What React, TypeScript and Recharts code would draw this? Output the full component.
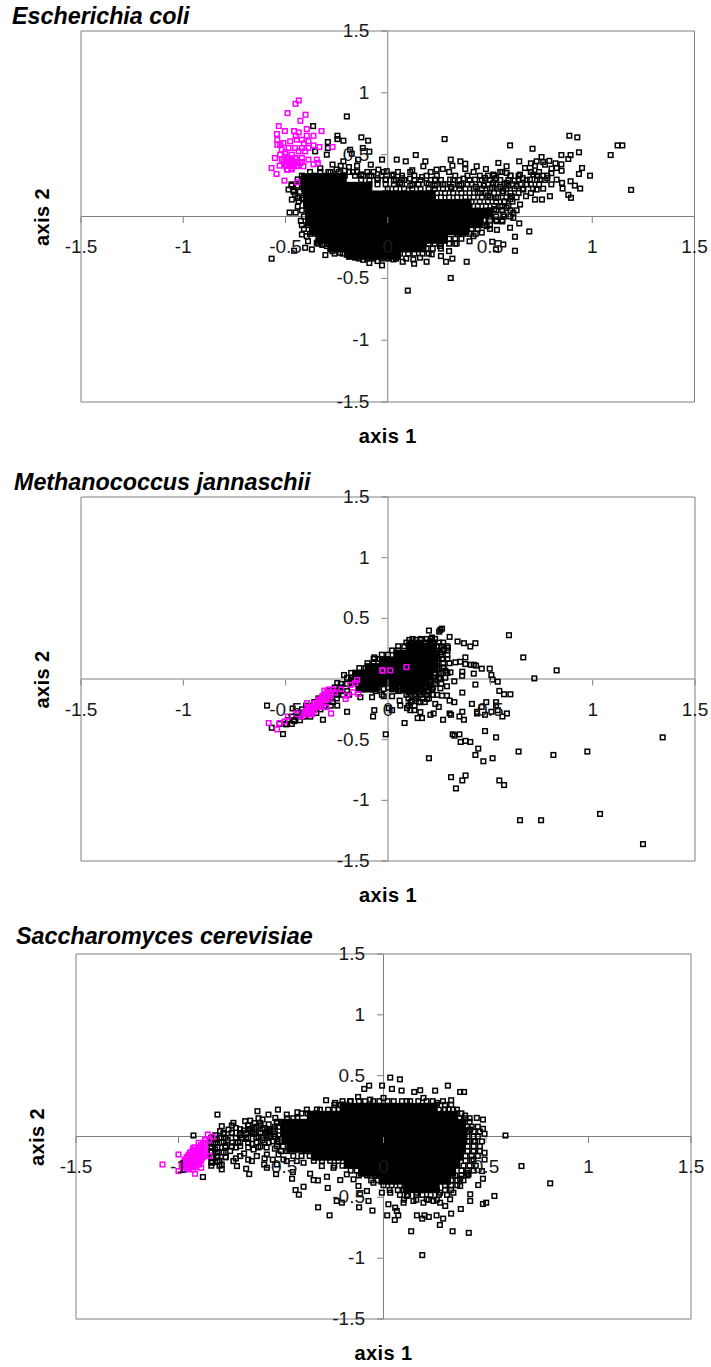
import { ScatterChart, Scatter, XAxis, YAxis, ReferenceLine, ReferenceArea, Label } from 'recharts';

type Pt = [number, number];
type Row = [number, number[]];

const xTicks = [-1.5, -1, -0.5, 0, 0.5, 1, 1.5];
const yTicks = [1.5, 1, 0.5, -0.5, -1, -1.5];

// hollow marks that can be told apart in the picture
const ecoliBlack: Pt[] = [
  [1.19,.215],[1.124,.575],[1.147,.575],[1.09,.497],[.989,.33],[.941,.226],[.915,.25],[.894,.285],[.935,.344],[.95,.392],[.935,.519],[.927,.64],[.888,.653],[.894,.497],[.849,.497],[.883,.465],[.849,.422],[.826,.392],[.801,.387],[.826,.298],[.852,.272],[.855,.226],[.883,.175],[.896,.151],[.793,.164],[.754,.137],[.72,.137],[.676,.164],[.692,-.121],[.643,-.056],[.622,-.277],[.565,-.226],[.622,-.164],[.598,-.091],[.534,-.108],[.529,-.266],[.511,-.204],[.386,-.366],[.308,-.497],[.098,-.599],[.316,-.341],[.285,-.366],[.19,-.366],[.129,-.382],[.073,-.366],[-.028,-.395],[-.09,-.376],[-.568,-.341],[-.458,-.277],[-.305,-.312],[-.371,-.266],[-.404,-.253],[-.42,-.145],[-.48,.032],[-.45,.032],[-.425,-.035],[-.2,.809],[-.365,.731],[-.246,.653],[-.129,.64],[-.096,.613],[.278,.626],[.598,.575],[.708,.548],[.137,.497],[-.028,.46],[.044,.46],[.088,.446],[.184,.446],[.308,.46],[.355,.446],
  [-.293,.602],[-.293,.554],[-.217,.613],[-.246,.626],[-.184,.54],[-.122,.554],[-.09,.524],[-.145,.46],[-.176,.508],[-.217,.446],[-.298,.5],[-.355,.527],[-.083,.419],[-.046,.379],[-.005,.366],[.028,.339],[.12,.374],[.174,.406],[.168,.32],[.239,.379],[.269,.384],[.316,.411],[.379,.427],[.379,.384],[.435,.406],[.48,.384],[.541,.433],[.581,.406],[.643,.446],[.671,.392],[.728,.446],[.752,.481],[.769,.419],[.37,.306],[.427,.298],[.305,.298],[.231,.298],[.109,.306],[.06,.272],[.516,.339],[.581,.352],[.647,.339],[.712,.339],[.476,.312],[.516,.272],[.581,.272],[.63,.245],[.695,.298],[.744,.298],[.728,.218],[.663,.218],[.565,.204],[.606,.164],[.581,.07],[.647,.097],[.614,.03],[.565,.016],[.614,-.011],[.533,-.038],[.484,-.078],[.419,-.159],[.337,-.218],[.256,-.239],[.215,-.306],[.158,-.333],[.028,-.347],[.125,-.347],[-.16,-.333],[-.233,-.293],[-.298,-.239],[-.347,-.212],[-.396,-.159],[-.371,-.091],[-.412,.137],[-.469,.137],[-.485,.218],[-.453,.177],[-.436,.124],[-.42,.298],
  [.49,.33],[.53,.31],[.55,.36],[.6,.33],[.62,.29],[.66,.31],[.68,.26],[.7,.36],[.74,.36],[.76,.33],[.78,.31],[.8,.35],[.72,.41],[.7,.43],[.76,.44],[.79,.45],[.82,.43],[.85,.37],[.59,.25],[.55,.24],[.51,.23],[.47,.25],[.43,.24],[.39,.26],[.35,.25],[.31,.24],[.27,.26],[.23,.25],[.19,.27],[.15,.26],[.11,.25],[.07,.31],[.03,.29],[-.01,.3],[-.05,.31],[-.09,.33],[-.13,.34],[-.17,.36],[-.21,.37],[-.25,.38],[-.29,.36],[-.33,.39],[-.27,.42],[-.23,.41],[-.19,.4],[-.15,.41],[.45,.19],[.49,.17],[.53,.15],[.57,.12],[.6,.14],[.55,.08],[.52,.06],[.56,-.04],[.5,-.1],[.46,-.13],[.4,-.2],[.36,-.14],[.3,-.28],[.26,-.32],[-.05,-.36],[-.12,-.35],[-.2,-.31],[-.27,-.28],[-.32,-.23],[-.39,-.2],[-.41,-.1],[-.44,.08],[-.46,.21],[-.47,.26],[-.44,.3],
];
// fringe of the overplotted mass, still single hollow marks
const ecoliFringe: Row[] = [
  [.36, [-.38,-.33,-.28,-.24,-.19,-.15,-.1,-.07,-.02,.05,.11,.21,.3,.42,.56,.7]],
  [.33, [-.42,-.36,-.3,-.26,-.21,-.16,-.12,-.08,-.03,.02,.07,.13,.19,.24,.33,.39,.45,.52,.6,.64,.73,.78]],
  [.295, [-.13,-.09,-.05,-.01,.04,.08,.13,.16,.21,.26,.32,.35,.4,.46,.5,.55,.59,.64,.68,.73,.77]],
  [.26, [-.09,-.05,-.01,.03,.07,.12,.15,.2,.24,.28,.32,.36,.41,.45,.49,.53,.57,.61,.65,.7,.74,.8]],
  [.225, [0,.04,.08,.12,.16,.2,.23,.27,.31,.35,.38,.42,.46,.5,.54,.58,.62,.66,.71,.76]],
  [.19, [.2,.24,.28,.32,.36,.4,.44,.48,.52,.56,.6,.64,.7]],
  [.155, [.22,.26,.3,.34,.38,.42,.46,.5,.54,.58,.63]],
  [.12, [.38,.41,.45,.49,.53,.57,.61]],
  [.085, [.4,.44,.48,.52,.56,.59]],
  [.05, [.5,.53,.56,.6,.63,-.42]],
  [0, [.5,.53,.57,.6,-.41]],
  [-.03, [.47,.5,.53,.56]],
  [-.07, [.41,.44,.47,.5,-.42,-.39]],
  [-.1, [.38,.41,.44]],
  [-.14, [.34,.37,.4,.43,-.38,-.35]],
  [-.18, [.27,.3,.33,.36]],
  [-.22, [.2,.23,.26,.3,.33,-.34,-.31,-.29]],
  [-.26, [.16,.19,.22,.26,-.28,-.25]],
  [-.3, [.06,.1,.13,.17,.2,-.22,-.26]],
  [-.34, [-.14,-.1,-.07,-.03,0,.04,.09]],
  [.15, [-.44,-.42]],
  [.2, [-.46,-.43]],
  [.25, [-.47,-.44,-.42]],
];
const ecoliCore: Row[] = [
  [.31, [-.4,-.355,-.31,-.27,-.225]],
  [.24, [-.4,-.36,-.315,-.27,-.225,-.185,-.14,-.1]],
  [.17, [-.39,-.345,-.3,-.26,-.215,-.17,-.13,-.085,-.04,0,.045,.09,.13,.175,.21]],
  [.1, [-.39,-.345,-.305,-.26,-.215,-.175,-.13,-.085,-.045,0,.04,.085,.13,.17,.215,.26,.3,.345,.385]],
  [.03, [-.38,-.34,-.295,-.25,-.205,-.165,-.12,-.075,-.035,.01,.055,.095,.14,.185,.225,.27,.315,.355,.4,.445,.49]],
  [-.04, [-.38,-.335,-.29,-.25,-.205,-.16,-.12,-.075,-.03,.01,.055,.1,.14,.185,.23,.27,.315,.36,.4,.445]],
  [-.11, [-.36,-.315,-.275,-.23,-.185,-.145,-.1,-.055,-.015,.03,.075,.115,.16,.205,.245,.29,.335,.375]],
  [-.18, [-.33,-.285,-.245,-.2,-.155,-.115,-.07,-.025,.015,.06,.105,.145,.19,.235,.27]],
  [-.25, [-.27,-.23,-.185,-.14,-.1,-.055,-.01,.03,.075,.12,.165]],
  [-.31, [-.18,-.135,-.09,-.05,-.005,.04]],
];
const ecoliMagenta: Pt[] = [
  [-.435,.938],[-.451,.911],[-.49,.836],[-.402,.823],[-.427,.774],[-.533,.731],[-.542,.667],[-.503,.691],[-.458,.691],[-.435,.68],[-.396,.707],[-.324,.691],[-.363,.653],[-.396,.653],[-.27,.562],[-.334,.562],[-.363,.575],[-.552,.473],[-.568,.392],[-.544,.344],[-.505,.29],[-.443,.277],[-.363,.422],[-.347,.46],[-.342,.433],[-.412,.406],[-.529,.411],
  [-.526,.581],[-.51,.594],[-.477,.608],[-.445,.621],[-.42,.621],[-.388,.608],[-.518,.54],[-.485,.554],[-.453,.554],[-.42,.554],[-.388,.554],[-.526,.5],[-.502,.508],[-.469,.5],[-.436,.527],[-.404,.527],[-.518,.46],[-.485,.465],[-.453,.473],[-.42,.473],[-.388,.46],[-.502,.419],[-.477,.433],[-.453,.433],[-.428,.433],[-.493,.379],[-.469,.392],[-.445,.406],[-.51,.446],[-.461,.446],[-.493,.41],[-.47,.42],[-.48,.45],[-.46,.41],[-.5,.52],[-.54,.62],[-.54,.58],[-.45,.65],[-.41,.59],
];
const ecoliMagentaDense: Row[] = [
  [.47, [-.49,-.47,-.45]],
  [.44, [-.5,-.48,-.46,-.44,-.42]],
  [.41, [-.5,-.48,-.46,-.44]],
  [.38, [-.49,-.47]],
];

const methanoBlack: Pt[] = [
  [1.342,-.481],[1.246,-1.361],[1.036,-1.112],[.748,-1.164],[.645,-1.164],[.974,-.598],[.808,-.626],[.638,-.598],[.511,-.653],[.466,-.678],[.427,-.626],[.441,-.574],[.528,-.481],[.474,-.429],[.402,-.519],[.379,-.51],[.355,-.519],[.349,-.456],[.316,-.456],[.325,-.467],[.2,-.653],[.308,-.809],[.332,-.902],[.363,-.836],[.379,-.795],[.544,-.836],[.567,-.874],[-.011,-.456],[.081,-.363],[-.073,-.309],[-.067,-.257],[.824,.071],[.715,.005],[.661,.178],[.591,.361],[.497,.085],[.458,.085],[.505,.033],[.511,-.005],[.536,-.022],[.544,-.098],[.567,-.126],[.598,-.126],[.427,-.046],[.363,-.112],[.419,.044],[.363,.06],[.324,-.019],[.362,.027],[.378,.178],[.427,.295],[.402,.268],[.371,.295],[.34,.309],[.301,.347],[.293,.257],[.2,.399],[.25,.39],[.264,.415],[.256,.405],[.104,.322],[.137,.322],[.16,.322],[-.067,.178],[-.215,.033],[-.248,-.033],[-.2,-.27],[-.248,-.219],[-.318,-.336],[-.591,-.219],[-.466,-.243],[-.513,-.454],[-.568,-.402],[-.497,-.374],[-.458,-.347],[.419,.117],[.405,.117],[.43,.11],[.329,.137],[.353,.142],[.378,.123],
  [.207,-.295],[.223,-.284],[.269,-.336],[.301,-.284],[.308,-.295],[.349,-.309],[.371,-.336],[.363,-.27],[.435,-.27],[.435,-.284],[.474,-.295],[.505,-.27],[.536,-.257],[.559,-.309],[.581,-.284],[.528,-.191],[.528,-.219],[.48,-.191],[.458,-.23],[.41,-.205],[.324,-.191],[.301,-.178],[.264,-.137],[.288,-.137],[.231,-.205],[.248,-.23],[.166,-.322],[.145,-.322],[.158,-.273],[.129,-.257],[.109,-.257],[.093,-.24],[.06,-.219],[.02,-.257],[.003,-.24],[.057,-.178],[.02,-.142],[-.021,-.142],[-.078,-.15],[-.135,-.15],[.256,-.077],[.288,-.06],[.239,-.131],[.191,-.164],[.158,-.191],[.117,-.178],[.101,-.109],[.06,-.096],[.02,-.082],[-.021,-.082],[.158,-.109],[.191,-.104],[.215,-.082],[.134,-.142],
  [.272,.246],[.256,.219],[.264,.164],[.239,.109],[.272,.096],[.248,.041],[.28,.068],[.231,-.014],[.256,0],[.305,.055],[.207,-.055],[.182,-.06],[.215,.342],[.207,.314],[.223,.301],
];
const methanoFringe: Row[] = [
  [.33, [.12,.16,.19,.21,.23]],
  [.3, [.09,.12,.15,.18,.22,.25,.27]],
  [.27, [.05,.08,.24,.26,.29]],
  [.235, [.02,.05,.24,.27,.29]],
  [.2, [-.03,0,.24,.26,.29]],
  [.165, [-.07,-.04,.24,.27,.29]],
  [.13, [-.1,-.07,.24,.27,.3]],
  [.09, [-.14,-.11,.24,.27]],
  [.05, [-.18,-.16,.23,.26,.29]],
  [.01, [-.2,-.18,.22,.25,.28]],
  [-.04, [-.23,-.2,.2,.23,.26]],
  [-.07, [-.26,-.23,-.05,0,.02,.2,.22]],
  [-.1, [-.29,-.26,-.23,-.2,-.06,.05,.1,.13,.17,.2]],
  [-.13, [-.31,-.28,-.25,-.22,-.19,-.03,.09,.13,.16,.19,.22]],
  [-.16, [-.34,-.31,-.28,-.25,.1,.14,.17,.2]],
  [-.19, [-.36,-.33,-.3,-.27,.11,.15,.18]],
  [-.22, [-.4,-.37,-.34,-.31,-.28,.1,.13]],
  [-.25, [-.42,-.39,-.36,-.33]],
  [-.28, [-.44,-.41,-.38,-.35]],
  [-.31, [-.47,-.44,-.41,-.38]],
  [-.34, [-.49,-.46,-.43]],
  [-.37, [-.53,-.5,-.47]],
];
const methanoCore: Row[] = [
  [.26, [.11,.145,.18,.215]],
  [.2, [.05,.09,.125,.16,.195,.225]],
  [.145, [-.02,.015,.05,.085,.12,.155,.19,.22]],
  [.09, [-.09,-.055,-.02,.015,.05,.085,.12,.155,.19,.22]],
  [.035, [-.15,-.115,-.08,-.045,-.01,.025,.06,.095,.13,.165,.2]],
  [-.02, [-.17,-.135,-.1,-.065,-.03,.005,.04,.075,.11,.145,.18]],
  [-.07, [-.135,-.1,-.065,.03,.08,.12,.16]],
];
const methanoMagenta: Pt[] = [
  [-.583,-.363],[-.542,-.415],[-.529,-.363],[-.505,-.35],[-.489,-.309],[-.448,-.284],[-.425,-.309],[-.404,-.287],[-.396,-.199],[-.371,-.29],[-.278,-.284],[-.301,-.232],[-.285,-.164],[-.379,-.232],[-.355,-.219],[-.339,-.178],[-.322,-.15],[-.311,-.096],[-.29,-.087],[-.27,-.085],[-.228,-.085],[-.207,-.164],[-.2,-.137],[-.171,-.109],[-.145,-.123],[-.184,-.049],[-.16,-.033],[-.151,-.008],[-.026,.068],[-.028,.072],[.011,.071],[.09,.098],[-.412,-.273],[-.388,-.246],[-.347,-.205],[-.33,-.191],[-.314,-.164],[-.306,-.137],[-.36,-.24],[-.34,-.225],[-.32,-.2],[-.38,-.27],
];
const methanoMagentaDense: Row[] = [
  [-.29, [-.44,-.42,-.4,-.38]],
  [-.26, [-.4,-.38,-.36]],
  [-.23, [-.39,-.37,-.35,-.33]],
  [-.2, [-.36,-.34,-.32]],
  [-.17, [-.34,-.32,-.3]],
  [-.14, [-.32,-.3,-.28]],
  [-.11, [-.3,-.28,-.26]],
];

const yeastBlack: Pt[] = [
  [.813,-.385],[.673,-.243],[.595,.008],[.541,-.489],[.501,-.544],[.485,-.555],[.423,-.53],[.423,-.475],[.377,-.596],[.416,-.792],[.337,-.779],[.189,-.975],[.135,-.779],[.275,-.727],[.291,-.675],[.33,-.634],[.259,-.648],[.221,-.661],[.189,-.675],[.163,-.648],[.2,-.648],[.055,-.686],[.018,-.648],[.072,-.648],[-.054,-.609],[-.119,-.582],[-.263,-.648],[-.319,-.582],[-.413,-.478],[-.429,-.44],[-.39,-.413],[-.272,-.423],[-.32,-.361],[-.358,-.306],[-.446,-.347],[-.524,-.309],[-.582,-.23],[-.655,-.309],[-.67,-.265],[-.642,-.202],[-.715,-.243],[-.789,-.27],[-.881,-.333],[-.81,.18],[-.615,.208],[-.561,.18],[-.515,.221],[-.42,.199],[-.28,.298],[-.124,.325],[-.094,.391],[-.07,.418],[-.007,.418],[.033,.484],[.08,.47],[.041,.391],[.088,.377],[.15,.366],[.179,.38],[.252,.377],[.314,.418],[.374,.366],[.393,.366],[.33,.298],[.358,.221],[.398,.172],[.455,.153],[.485,.139],[.485,.063],[.493,.022],[.423,.057],[.447,-.038],[.493,-.134],[.493,-.189],[.485,-.347],[.462,-.399],[.48,-.284],[.45,-.24],[.415,-.311],[.374,-.347],[.374,-.407],[.341,-.462],[.301,-.571],[.244,-.53],[.195,-.544],[.146,-.53],[.098,-.544],[.024,-.557],[-.008,-.462],[-.073,-.53],[-.114,-.475],[-.203,-.544],[-.228,-.53],[-.081,-.448],[-.122,-.407],[-.211,-.358],[-.276,-.331],[-.341,-.358],[-.442,-.292],[-.472,-.202],[-.52,-.23],[-.569,-.257],[-.699,-.161],[-.732,-.202],[-.789,-.23],[-.732,.112],[-.789,.085],[-.675,.126],[-.602,.112],[-.528,.153],[-.472,.18],[-.374,.221],[-.325,.221],[-.236,.276],[-.195,.262],[-.163,.29],[-.065,.303],[0,.317],[.114,.29],[.195,.317],[.26,.276],[.317,.221],[-.772,-.079],[-.699,-.079],[-.748,-.12],[-.634,-.107],[-.569,-.148],[-.618,-.161],[-.512,-.148],[-.488,-.189],[-.423,-.202],[-.39,-.216],[-.301,-.243],[-.244,-.257],[-.179,-.311],[-.146,-.352],[-.049,-.38],[.033,-.462],[.057,-.585],[.065,-.612],[.114,-.489],[.163,-.462],[.211,-.516],[.276,-.544],[.276,-.462],[.325,-.516],[.439,-.189],[.439,-.12],[.407,-.298],
  [-.797,.044],[-.756,.057],[-.813,-.025],[-.821,-.107],[-.813,-.161],[-.837,-.216],[-.927,.008],
  [-.78,.02],[-.76,-.03],[-.74,.03],[-.72,.07],[-.7,.01],[-.68,.05],[-.66,.09],[-.64,.04],[-.62,.08],[-.6,.03],[-.58,.07],[-.56,.1],[-.54,.06],[-.52,.11],[-.65,.13],[-.61,.15],[-.63,.02],[-.59,-.03],[-.67,-.02],[-.71,-.05],[-.64,-.06],[-.6,-.08],[-.56,-.05],[-.53,-.1],[-.55,0],[-.51,.01],[-.52,-.04],[-.74,-.08],[-.79,-.05],[-.79,-.13],[-.77,-.17],[-.8,-.2],[-.83,-.06],[-.84,-.12],[-.83,-.17],[-.82,.01],[-.68,-.14],[-.72,-.18],[-.66,-.19],[-.58,-.18],[-.54,-.19],[-.57,.01],[-.61,0],[-.65,.06],[-.63,.11],[-.59,.14],[-.555,.05],[-.535,.02],[-.515,-.02],
];
const yeastFringe: Row[] = [
  [.29, [-.2,-.16,-.12,-.09,-.05,-.02,.02,.05,.09,.13,.17,.21,.24,.29]],
  [.26, [-.24,-.21,.26,.3,.33]],
  [.22, [-.31,-.27,-.24,-.22,.27,.3,.34]],
  [.19, [-.4,-.37,-.33,.36,.38]],
  [.15, [-.47,-.44,-.42,.37,.4,.42]],
  [.12, [-.52,-.5,.39,.42]],
  [.08, [-.53,-.51,.41,.43,.46]],
  [.04, [-.56,-.53,.41,.44,.47]],
  [0, [-.56,-.53,.41,.44,.46]],
  [-.04, [-.54,-.51,.41,.44,.48]],
  [-.08, [-.52,-.49,.41,.44,.47]],
  [-.12, [-.5,-.47,-.38,-.34,.41,.44,.47]],
  [-.16, [-.44,-.4,-.36,.4,.43,.46]],
  [-.2, [-.34,-.3,-.26,-.22,.4,.43]],
  [-.24, [-.2,-.24,-.16,.39,.42]],
  [-.28, [-.16,-.13,.38,.41,.44]],
  [-.32, [-.12,-.08,-.04,.35,.38,.41]],
  [-.36, [-.06,-.03,.33,.36,.39]],
  [-.4, [0,.04,.08,.3,.33,.36]],
  [-.44, [.03,.07,.1,.14,.18,.22,.26,.3,.33]],
  [-.48, [.08,.12,.16,.19,.23,.27,.31]],
  [-.52, [.1,.16,.22,.26]],
  [.09, [-.74,-.66,-.6]],
  [.06, [-.7,-.66,-.63,-.59,-.56]],
  [.03, [-.78,-.74,-.7,-.67,-.64,-.6,-.57]],
  [-.01, [-.84,-.8,-.77,-.72,-.69,-.66,-.62,-.59]],
  [-.05, [-.84,-.82,-.78,-.74,-.7,-.66,-.62,-.58]],
  [-.09, [-.84,-.81,-.77,-.72,-.66,-.61,-.57]],
  [-.13, [-.84,-.81,-.78]],
  [-.17, [-.84,-.81,-.77]],
  [-.21, [-.84,-.81]],
  [-.24, [-.84,-.8]],
];
const yeastCore: Row[] = [
  [.235, [-.19,-.15,-.105,-.06,-.02,.025,.07,.11,.155,.2,.24]],
  [.17, [-.35,-.31,-.265,-.22,-.18,-.135,-.09,-.05,-.005,.04,.08,.125,.17,.21,.255,.3,.34]],
  [.104, [-.48,-.44,-.395,-.35,-.31,-.265,-.22,-.18,-.135,-.09,-.05,-.005,.04,.08,.125,.17,.21,.255,.3,.34,.375]],
  [.038, [-.48,-.435,-.39,-.35,-.305,-.26,-.22,-.175,-.13,-.09,-.045,0,.04,.085,.13,.17,.215,.26,.3,.345,.385]],
  [-.027, [-.48,-.44,-.395,-.35,-.31,-.265,-.22,-.18,-.135,-.09,-.05,-.005,.04,.08,.125,.17,.21,.255,.3,.34,.385]],
  [-.093, [-.45,-.405,-.365,-.32,-.275,-.235,-.19,-.145,-.105,-.06,-.015,.025,.07,.115,.155,.2,.245,.285,.33,.375]],
  [-.158, [-.33,-.29,-.245,-.2,-.16,-.115,-.07,-.03,.015,.06,.1,.145,.19,.23,.275,.32,.365]],
  [-.224, [-.17,-.13,-.085,-.04,0,.045,.09,.13,.175,.22,.26,.305,.35]],
  [-.29, [-.1,-.055,-.015,.03,.075,.115,.16,.205,.245,.29,.33]],
  [-.355, [0,.045,.085,.13,.175,.215,.26,.305]],
  [-.42, [.12,.165,.205,.25]],
];
const yeastMagenta: Pt[] = [
  [-1.078,-.23],[-1,-.148],[-1,-.284],[-.919,-.306],[-.889,-.257],[-.849,-.161],[-.857,.016],[-.833,-.003],[-.87,-.025],
  [-.878,-.052],[-.902,-.052],[-.927,-.093],[-.902,-.093],[-.878,-.093],[-.943,-.134],[-.919,-.134],[-.894,-.134],[-.87,-.134],[-.959,-.175],[-.935,-.175],[-.911,-.175],[-.886,-.175],[-.976,-.216],[-.951,-.216],[-.927,-.216],[-.902,-.216],[-.959,-.257],[-.935,-.243],[-.984,-.243],[-.91,-.155],[-.94,-.195],[-.965,-.195],[-.89,-.2],[-.915,-.115],[-.89,-.115],[-.95,-.155],
];
const yeastMagentaDense: Row[] = [
  [-.03, [-.87,-.85]],
  [-.07, [-.89,-.87]],
  [-.09, [-.92,-.9,-.88]],
  [-.11, [-.93,-.91,-.89,-.87]],
  [-.13, [-.94,-.92,-.9,-.88]],
  [-.15, [-.95,-.93,-.91,-.89,-.87]],
  [-.17, [-.96,-.94,-.92,-.9,-.88]],
  [-.19, [-.97,-.95,-.93,-.91,-.89]],
  [-.21, [-.97,-.95,-.93,-.91]],
  [-.23, [-.98,-.96,-.94,-.92,-.9]],
  [-.25, [-.98,-.96,-.94,-.92]],
  [-.27, [-.97,-.95,-.93]],
];

const expand = (rows: Row[]) => rows.flatMap(([y, xs]) => xs.map((x) => ({ x, y })));
const toRows = (pts: Pt[]) => pts.map(([x, y]) => ({ x, y }));

const Hollow = (color: string) => (p: any) => (
  <rect x={p.cx - 2.3} y={p.cy - 2.3} width={4.6} height={4.6} fill="none" stroke={color} strokeWidth={1.5} />
);
const Filled = (p: any) => <rect x={p.cx - 5} y={p.cy - 5} width={10} height={10} fill="#000" />;

const FONT = '"Liberation Sans", Arial, sans-serif';
const AXIS_GREY = '#808080';

interface PanelProps {
  title: string;
  titleLeft: number;
  titleTop: number;
  chartTop: number;
  chartHeight: number;
  left: number;
  top: number;
  plotW: number;
  plotH: number;
  black: Pt[];
  fringe: Row[];
  core: Row[];
  magenta: Pt[];
  magentaDense: Row[];
}

function Panel({ title, titleLeft, titleTop, chartTop, chartHeight, left, top, plotW, plotH, black, fringe, core, magenta, magentaDense }: PanelProps) {
  const zeroX = left + plotW / 2;
  const zeroY = top + plotH / 2;

  const xTick = (p: any) => (
    <g>
      <line x1={p.x} x2={p.x} y1={zeroY} y2={zeroY + 6} stroke={AXIS_GREY} />
      <text x={p.x} y={zeroY + 36} textAnchor="middle" fontSize={19} fontFamily={FONT} fill="#1a1a1a">
        {p.payload.value}
      </text>
    </g>
  );
  const yTick = (p: any) => (
    <g>
      <line x1={zeroX - 6} x2={zeroX} y1={p.y} y2={p.y} stroke={AXIS_GREY} />
      <text x={zeroX - 18} y={p.y + 6} textAnchor="end" fontSize={19} fontFamily={FONT} fill="#1a1a1a">
        {p.payload.value}
      </text>
    </g>
  );
  const yLabel = () => (
    <text
      transform={`translate(${left - 31},${zeroY}) rotate(-90)`}
      textAnchor="middle"
      fontSize={20}
      letterSpacing={0.4}
      fontWeight="bold"
      fontFamily={FONT}
      fill="#000"
    >
      axis 2
    </text>
  );

  return (
    <div style={{ position: 'absolute', left: 0, top: chartTop, width: 711, height: chartHeight }}>
      <ScatterChart
        width={711}
        height={chartHeight}
        margin={{ left, top, right: 711 - left - plotW, bottom: chartHeight - top - plotH }}
      >
        <XAxis
          type="number"
          dataKey="x"
          domain={[-1.5, 1.5]}
          ticks={xTicks}
          interval={0}
          axisLine={false}
          tickLine={false}
          height={1}
          tick={xTick}
        >
          <Label value="axis 1" position="bottom" offset={26} fontSize={20} letterSpacing={0.4} fontWeight="bold" fontFamily={FONT} fill="#000" />
        </XAxis>
        <YAxis
          type="number"
          dataKey="y"
          domain={[-1.5, 1.5]}
          ticks={yTicks}
          interval={0}
          axisLine={false}
          tickLine={false}
          width={1}
          tick={yTick}
        >
          <Label content={yLabel} />
        </YAxis>
        <ReferenceArea x1={-1.5} x2={1.5} y1={-1.5} y2={1.5} fill="none" stroke={AXIS_GREY} strokeWidth={1} />
        <ReferenceLine x={0} stroke={AXIS_GREY} />
        <ReferenceLine y={0} stroke={AXIS_GREY} />
        <Scatter data={expand(core)} shape={Filled} isAnimationActive={false} />
        <Scatter data={[...toRows(black), ...expand(fringe)]} shape={Hollow('#000')} isAnimationActive={false} />
        <Scatter data={[...toRows(magenta), ...expand(magentaDense)]} shape={Hollow('#ff00ff')} isAnimationActive={false} />
      </ScatterChart>
      <div
        style={{
          position: 'absolute',
          left: titleLeft,
          top: titleTop,
          fontFamily: FONT,
          fontSize: 23.3,
          lineHeight: '24px',
          fontWeight: 'bold',
          fontStyle: 'italic',
          color: '#000',
          whiteSpace: 'nowrap',
        }}
      >
        {title}
      </div>
    </div>
  );
}

export default function App() {
  return (
    <div style={{ position: 'absolute', left: 0, top: 0, width: 711, height: 1367, background: '#fff', overflow: 'hidden' }}>
      <Panel
        title="Escherichia coli"
        titleLeft={12}
        titleTop={4}
        chartTop={0}
        chartHeight={465}
        left={80}
        top={31}
        plotW={614.5}
        plotH={372}
        black={ecoliBlack}
        fringe={ecoliFringe}
        core={ecoliCore}
        magenta={ecoliMagenta}
        magentaDense={ecoliMagentaDense}
      />
      <Panel
        title="Methanococcus jannaschii"
        titleLeft={14}
        titleTop={5}
        chartTop={465}
        chartHeight={455}
        left={80}
        top={32}
        plotW={615}
        plotH={365}
        black={methanoBlack}
        fringe={methanoFringe}
        core={methanoCore}
        magenta={methanoMagenta}
        magentaDense={methanoMagentaDense}
      />
      <Panel
        title="Saccharomyces cerevisiae"
        titleLeft={16}
        titleTop={4}
        chartTop={920}
        chartHeight={447}
        left={75}
        top={34}
        plotW={616}
        plotH={366}
        black={yeastBlack}
        fringe={yeastFringe}
        core={yeastCore}
        magenta={yeastMagenta}
        magentaDense={yeastMagentaDense}
      />
    </div>
  );
}
